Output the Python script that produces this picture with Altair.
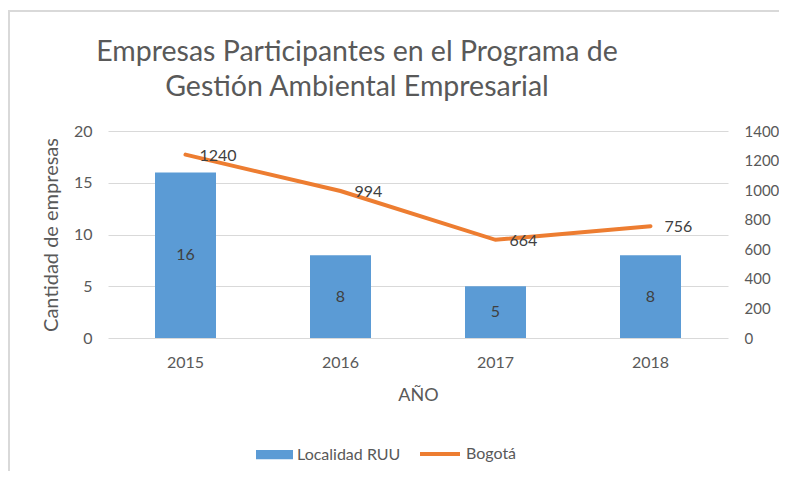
import altair as alt
import pandas as pd

years = ["2015", "2016", "2017", "2018"]
localidad_ruu = [16, 8, 5, 8]
bogota = [1240, 994, 664, 756]
left_ticks = [0, 5, 10, 15, 20]
right_ticks = [0, 200, 400, 600, 800, 1000, 1200, 1400]
title_lines = ["Empresas Participantes en el Programa de", "Gestión Ambiental Empresarial"]

BLUE = "#5B9BD5"
ORANGE = "#ED7D31"
GRAY = "#595959"
DARK = "#404040"
GRID = "#D9D9D9"
FONT = "Lato"

df = pd.DataFrame({
    "year": years,
    "ruu": localidad_ruu,
    "bog": bogota,
    "ruu_mid": [v / 2 for v in localidad_ruu],
    "s1": ["Localidad RUU"] * 4,
    "s2": ["Bogotá"] * 4,
})

x_axis = alt.Axis(title="AÑO", labelAngle=0, domain=False, ticks=False,
                  labelPadding=16, labelFontSize=16, labelColor=GRAY,
                  titleFontSize=18, titleColor=GRAY, titleFontWeight="normal",
                  titleY=57, titleBaseline="middle", titleX=310)
x_scale = alt.Scale(paddingInner=0, paddingOuter=0)

left_axis = alt.Axis(values=left_ticks, title="Cantidad de empresas", domain=False,
                     ticks=False, grid=True, gridColor=GRID, labelPadding=16,
                     labelFontSize=16, labelColor=GRAY, titleFontSize=20,
                     titleColor=GRAY, titleFontWeight="normal", titleX=-57,
                     titleY=103.5, titleAngle=270, titleBaseline="middle",
                     titleAlign="center", labelOverlap=False)
left_scale = alt.Scale(domain=[0, 20], nice=False)

right_axis = alt.Axis(orient="right", values=right_ticks, format="d", labelOverlap=False,
                      title=None, domain=False, ticks=False, grid=False,
                      labelPadding=16, labelFontSize=15, labelColor=GRAY)
right_scale = alt.Scale(domain=[0, 1400], nice=False)


def xe():
    return alt.X("year:N", sort=years, scale=x_scale, axis=x_axis)


frame = alt.Chart(pd.DataFrame({"a": [0]})).mark_rect(
    filled=False, stroke=GRID, strokeWidth=2
).encode(x=alt.value(-99), x2=alt.value(720), y=alt.value(-120), y2=alt.value(420))

bars = alt.Chart(df).mark_bar(size=61).encode(
    x=xe(),
    y=alt.Y("ruu:Q", scale=left_scale, axis=left_axis),
    fill=alt.Fill("s1:N", scale=alt.Scale(domain=["Localidad RUU"], range=[BLUE]),
                  legend=alt.Legend(title=None, orient="none", legendX=148, legendY=305,
                                    symbolType="M-1,-0.25H1V0.25H-1Z", symbolSize=1369,
                                    labelFontSize=16, labelColor=GRAY, symbolStrokeWidth=0,
                                    symbolOpacity=1)),
)

bar_text = alt.Chart(df).mark_text(fontSize=16, color=DARK, baseline="middle").encode(
    x=xe(),
    y=alt.Y("ruu_mid:Q", scale=left_scale, axis=left_axis),
    text=alt.Text("ruu:Q"),
)

line = alt.Chart(df).mark_line(strokeWidth=4, strokeCap="round").encode(
    x=xe(),
    y=alt.Y("bog:Q", scale=right_scale, axis=right_axis),
    stroke=alt.Stroke("s2:N", scale=alt.Scale(domain=["Bogotá"], range=[ORANGE]),
                      legend=alt.Legend(title=None, orient="none", legendX=310, legendY=301,
                                        symbolType="stroke", symbolSize=1600,
                                        symbolStrokeWidth=4, labelFontSize=16,
                                        labelColor=GRAY)),
)

line_text = alt.Chart(df).mark_text(fontSize=16, color=DARK, align="left", dx=14,
                                    baseline="middle", dy=1).encode(
    x=xe(),
    y=alt.Y("bog:Q", scale=right_scale, axis=right_axis),
    text=alt.Text("bog:Q"),
)

left = alt.layer(frame, bars, bar_text)
right = alt.layer(line, line_text)

chart = alt.layer(left, right).resolve_scale(
    y="independent", fill="independent", stroke="independent"
).properties(
    width=620, height=207,
    padding={"left": 100, "top": 123, "right": 51, "bottom": 133},
    autosize=alt.AutoSizeParams(type="none"),
    title=alt.TitleParams(text=title_lines, fontSize=28.5, font=FONT, color=GRAY,
                          fontWeight="normal", anchor="middle", frame="group", dx=-61,
                          offset=0, dy=120, baseline="bottom", lineHeight=35),
).configure(font=FONT).configure_view(stroke=None)

chart.save("out.html", embed_options={"renderer": "svg", "actions": False})
